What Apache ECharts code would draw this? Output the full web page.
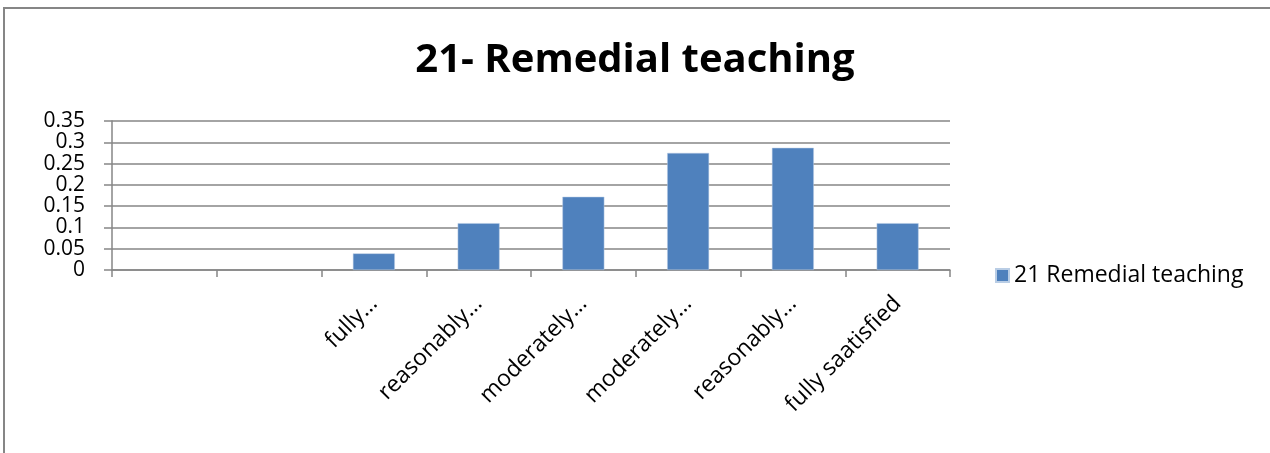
<!DOCTYPE html>
<html>
<head>
<meta charset="utf-8">
<script src="https://cdn.jsdelivr.net/npm/echarts@6/dist/echarts.min.js"></script>
<style>
  html, body { margin: 0; padding: 0; background: #fff; }
  #chart { width: 1270px; height: 453px; }
</style>
</head>
<body>
<div id="chart"></div>
<script>
const categories = ['', '', 'fully…', 'reasonably…', 'moderately…', 'moderately…', 'reasonably…', 'fully saatisfied'];
const remedialTeaching = [null, null, 0.039, 0.11, 0.172, 0.275, 0.287, 0.11];
const seriesName = '21 Remedial teaching';
const titleText = '21- Remedial teaching';

const font = '"Open Sans", "Liberation Sans", sans-serif';
const myChart = echarts.init(document.getElementById('chart'));
const option = {
  animation: false,
  backgroundColor: '#fff',
  textStyle: { fontFamily: font },
  title: {
    text: titleText,
    left: 'center',
    top: 36,
    textStyle: { fontFamily: font, fontSize: 40, fontWeight: 'bold', color: '#000' }
  },
  graphic: [{
    type: 'rect',
    shape: { x: 4, y: 8, width: 1400, height: 600 },
    style: { fill: 'none', stroke: '#868686', lineWidth: 2 },
    silent: true
  }],
  legend: {
    left: 990,
    top: 259,
    itemWidth: 13,
    itemHeight: 13,
    itemGap: 6,
    icon: 'rect',
    textStyle: { fontFamily: font, fontSize: 23, color: '#000' },
    data: [seriesName]
  },
  grid: {
    left: 112,
    right: 320,
    top: 121,
    bottom: 183,
    containLabel: false
  },
  xAxis: {
    type: 'category',
    data: categories,
    boundaryGap: true,
    axisLine: { lineStyle: { color: '#868686', width: 1.5 } },
    axisTick: { show: true, length: 7, lineStyle: { color: '#868686', width: 1.5 } },
    axisLabel: {
      interval: 0,
      rotate: 45,
      margin: 30,
      fontFamily: font,
      fontSize: 23,
      color: '#000'
    }
  },
  yAxis: {
    type: 'value',
    min: 0,
    max: 0.35,
    interval: 0.05,
    axisLine: { show: true, lineStyle: { color: '#868686', width: 1.5 } },
    axisTick: { show: true, length: 8, lineStyle: { color: '#868686', width: 1.5 } },
    splitLine: { lineStyle: { color: '#868686', width: 1.5 } },
    axisLabel: {
      margin: 27,
      fontFamily: font,
      fontSize: 21,
      color: '#000',
      lineHeight: 20,
      showMinLabel: true,
      showMaxLabel: true,
      formatter: function (v) { return String(+v.toFixed(2)); }
    }
  },
  series: [{
    name: seriesName,
    type: 'bar',
    barWidth: '40%',
    itemStyle: { color: '#4f81bd', borderColor: '#b9cde5', borderWidth: 0.5 },
    data: remedialTeaching
  }]
};
myChart.setOption(option);
</script>
</body>
</html>
